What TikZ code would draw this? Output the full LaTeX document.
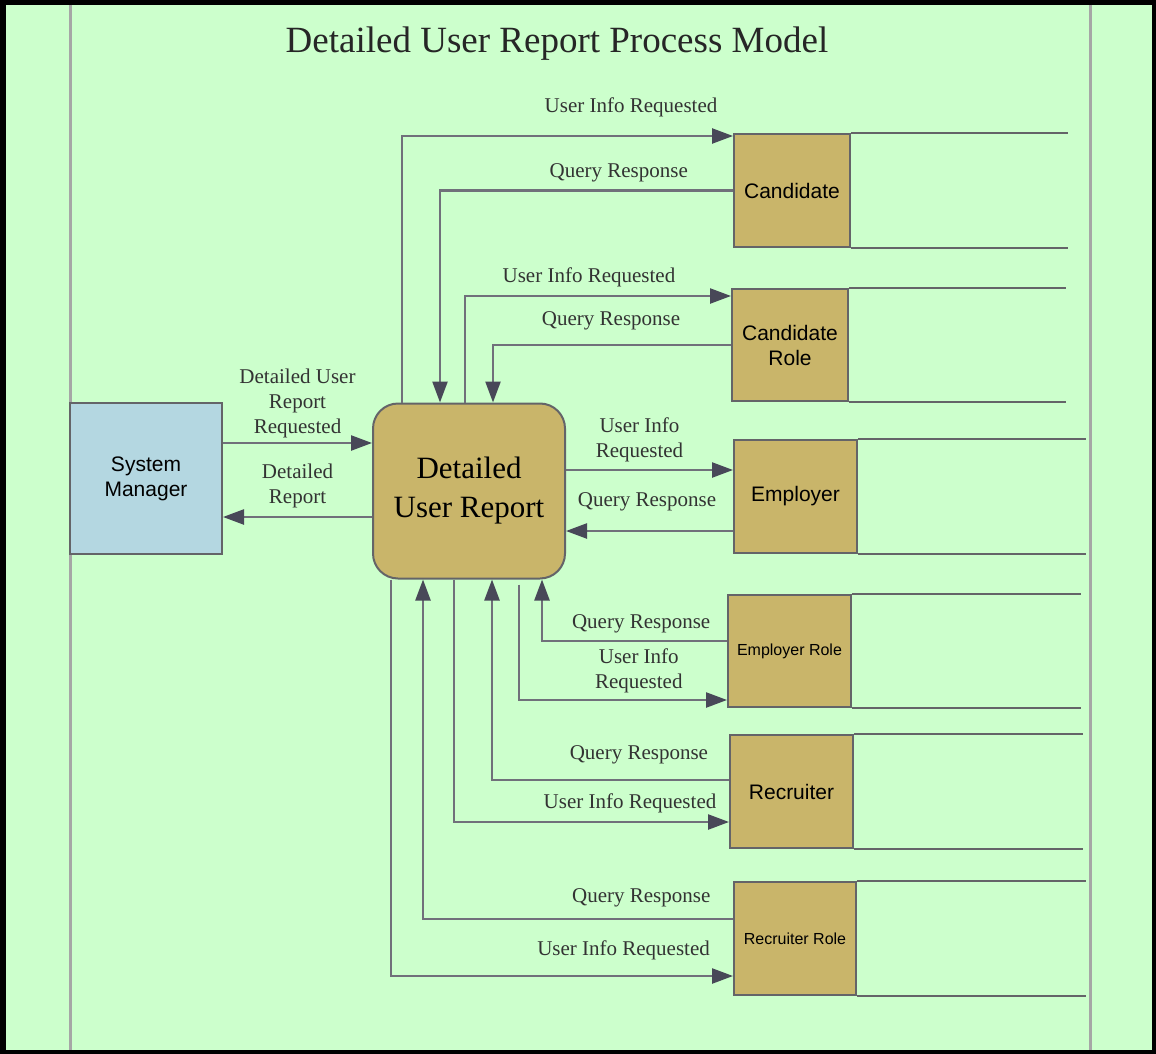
\documentclass[tikz,border=0pt]{standalone}
\usepackage{fontspec}
\setmainfont{Liberation Serif}
\newfontfamily\boxfont{Liberation Sans}
\usetikzlibrary{arrows.meta,calc}
\definecolor{pagegreen}{RGB}{204,255,204}
\definecolor{storetan}{RGB}{201,181,106}
\definecolor{mgrblue}{RGB}{180,215,225}
\definecolor{flowgray}{RGB}{112,112,122}
\definecolor{tipgray}{RGB}{72,72,88}
\definecolor{edgegray}{RGB}{100,100,104}

\begin{document}
\begin{tikzpicture}[x=0.5pt,y=-0.5pt,
    flow/.style={draw=flowgray,line width=1.2pt,-{Triangle[length=10.5pt,width=7.5pt,color=tipgray]}},
    lbl/.style={font=\fontsize{10.5}{12.5}\selectfont,text=black!80,inner sep=0pt,align=center},
    store/.style={draw=edgegray,line width=1pt,fill=storetan,minimum height=56.5pt,minimum width=60pt,
      inner sep=0pt,align=center,font=\boxfont\fontsize{10.5}{12.5}\selectfont}]
    \useasboundingbox (0,0) rectangle (1156,1054);
    \fill[black] (0,0) rectangle (1156,1054);
    \fill[pagegreen] (6,5) rectangle (1152,1050);
    \draw[black!35,line width=1.5pt] (70,5) -- (70,1050) (1090,5) -- (1090,1050);
    \node[font=\fontsize{18.5}{22}\selectfont,text=black!85] (title) at (557,44) {Detailed User Report Process Model};
    % process and external entity
    \node[draw=edgegray,line width=1pt,fill=mgrblue,minimum width=76pt,minimum height=75.5pt,align=center,
      font=\boxfont\fontsize{10.5}{12.5}\selectfont] (sysmgr) at (146,478.5) {System\\Manager};
    \node[draw=edgegray,line width=1pt,fill=storetan,rounded corners=12.5pt,minimum width=96pt,minimum height=87.5pt,
      align=center,font=\fontsize{15.5}{19.5}\selectfont] (dur) at (469,491) {Detailed\\User Report};
    % data stores
    \node[store,minimum width=58pt] (cand) at (792,190.5) {Candidate};
    \node[store,minimum width=58pt,minimum height=56pt] (candrole) at (790,345) {Candidate\\Role};
    \node[store,minimum width=61.5pt] (empl) at (795.5,496.5) {Employer};
    \node[store,minimum width=61.5pt,minimum height=56pt,font=\boxfont\fontsize{8}{10}\selectfont] (emplrole) at (789.5,651) {Employer Role};
    \node[store,minimum width=61.5pt] (recr) at (791.5,791.5) {Recruiter};
    \node[store,minimum width=61pt,font=\boxfont\fontsize{8}{10}\selectfont] (recrrole) at (795,938.5) {Recruiter Role};
    \foreach \s/\l in {cand/217,candrole/217,empl/228,emplrole/229,recr/229,recrrole/229}
      \draw[edgegray,line width=1pt] (\s.north east) -- ++(\l,0) (\s.south east) -- ++(\l,0);
    % flows
    \draw[flow] ($(sysmgr.east)+(0,-35.5)$) -- ($(dur.west)+(0,-48)$) node[lbl,midway,above=2pt]{Detailed User\\Report\\Requested};
    \draw[flow] ($(dur.west)+(0,26)$) -- ($(sysmgr.east)+(0,38.5)$) node[lbl,midway,above=4pt]{Detailed\\Report};
    \draw[flow] ($(dur.north west)+(30,0)$) |- ($(cand.north west)+(0,3)$) node[lbl,pos=0.846,above=9pt]{User Info Requested};
    \draw[flow] (cand.west) -| ($(dur.north west)+(68,0)$) node[lbl,pos=0.195,above=3.5pt]{Query Response};
    \draw[flow] ($(dur.north west)+(93,0)$) |- ($(candrole.north west)+(0,8)$) node[lbl,pos=0.733,above=4pt]{User Info Requested};
    \draw[flow] (candrole.west) -| ($(dur.north west)+(121,0)$) node[lbl,pos=0.252,above=7pt]{Query Response};
    \draw[flow] ($(dur.east)+(0,-21)$) -- ($(empl.west)+(0,-26.5)$) node[lbl,pos=0.44,above=3.5pt]{User Info\\Requested};
    \draw[flow] ($(empl.west)+(0,34.5)$) -- ($(dur.east)+(0,40)$) node[lbl,pos=0.515,above=9.5pt]{Query Response};
    \draw[flow] ($(emplrole.west)+(0,-10)$) -| ($(dur.south west)+(170,0)$) node[lbl,pos=0.232,above=3.5pt]{Query Response};
    \draw[flow] ($(dur.south west)+(147,5)$) |- ($(emplrole.west)+(0,49)$) node[lbl,pos=0.788,above=3pt]{User Info\\Requested};
    \draw[flow] ($(recr.west)+(0,-11.5)$) -| ($(dur.south west)+(120,0)$) node[lbl,pos=0.19,above=7.5pt]{Query Response};
    \draw[flow] ($(dur.south west)+(82,0)$) |- ($(recr.west)+(0,30.5)$) node[lbl,pos=0.82,above=4pt]{User Info Requested};
    \draw[flow] ($(recrrole.west)+(0,-19.5)$) -| ($(dur.south west)+(51,0)$) node[lbl,pos=0.148,above=5.5pt]{Query Response};
    \draw[flow] ($(dur.south west)+(19,0)$) |- ($(recrrole.west)+(0,37.5)$) node[lbl,pos=0.84,above=7.5pt]{User Info Requested};
\end{tikzpicture}
\end{document}
